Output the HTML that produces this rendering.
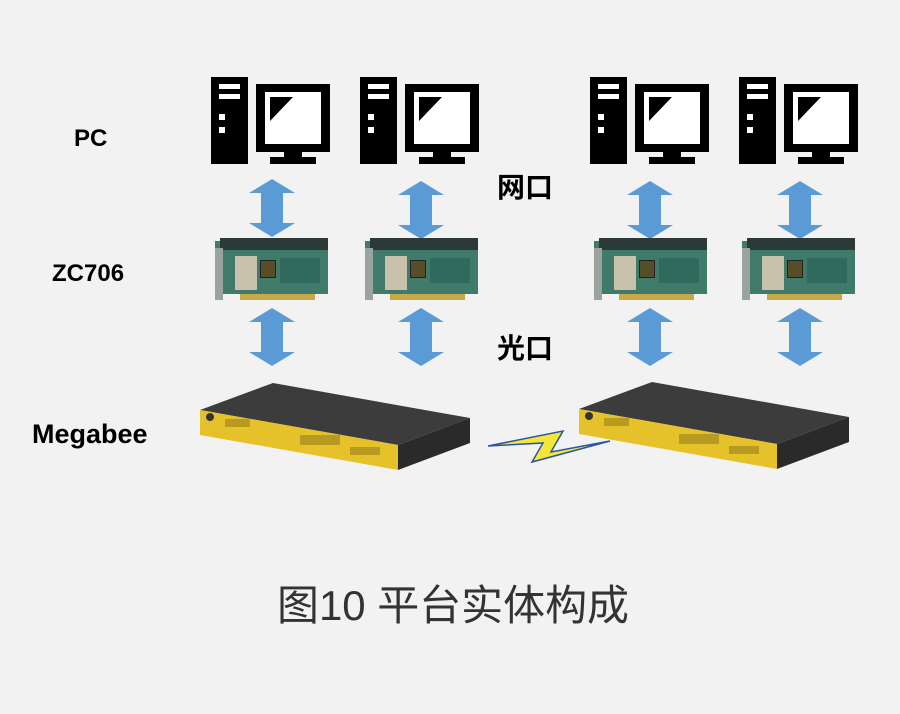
<!DOCTYPE html>
<html><head><meta charset="utf-8"><style>
html,body{margin:0;padding:0;background:#f2f2f2;}
</style></head><body>
<svg width="900" height="709" viewBox="0 0 900 709" xmlns="http://www.w3.org/2000/svg">
<rect width="900" height="709" fill="#f2f2f2"/>
<defs>
<g id="pc">
  <rect x="0" y="0" width="37" height="87" fill="#000"/>
  <rect x="8" y="7" width="21" height="5" fill="#fff"/>
  <rect x="8" y="17" width="21" height="5" fill="#fff"/>
  <rect x="8" y="37" width="6" height="6" fill="#fff"/>
  <rect x="8" y="50" width="6" height="6" fill="#fff"/>
  <rect x="45" y="7" width="74" height="68" fill="#000"/>
  <rect x="54" y="15" width="56" height="52" fill="#fff"/>
  <polygon points="59,20 82,20 59,44" fill="#000"/>
  <rect x="73" y="74" width="18" height="8" fill="#000"/>
  <rect x="59" y="80" width="46" height="7" fill="#000"/>
</g>
<g id="arr">
  <polygon points="0,0 23,14 11,14 11,44 23,44 0,58 -23,44 -11,44 -11,14 -23,14" fill="#5b9bd5"/>
</g>
<g id="board">
  <rect x="0" y="3" width="113" height="53" fill="#3f7a6a"/>
  <rect x="5" y="0" width="108" height="12" fill="#2b3a36"/>
  <rect x="0" y="10" width="8" height="52" fill="#9aa39e"/>
  <rect x="20" y="18" width="22" height="34" fill="#c8c2ac"/>
  <rect x="45" y="22" width="16" height="18" fill="#222"/>
  <rect x="46" y="23" width="14" height="16" fill="#8a7a30" opacity="0.5"/>
  <rect x="65" y="20" width="40" height="25" fill="#2f6a5c"/>
  <rect x="25" y="56" width="75" height="6" fill="#c8a94a"/>
</g>
<g id="mb">
  <polygon points="0,27 73,0 270,35 198,62" fill="#3c3c3c"/>
  <polygon points="0,27 198,62 198,87 0,52" fill="#e6c22a"/>
  <polygon points="198,62 270,35 270,60 198,87" fill="#2a2a2a"/>
  <circle cx="10" cy="34" r="4" fill="#333"/>
  <g fill="#b89a20"><rect x="25" y="36" width="25" height="8"/><rect x="100" y="52" width="40" height="10"/><rect x="150" y="64" width="30" height="8"/></g>
</g>
</defs>
<use href="#pc" x="211" y="77"/>
<use href="#pc" x="360" y="77"/>
<use href="#pc" x="590" y="77"/>
<use href="#pc" x="739" y="77"/>
<use href="#arr" x="272" y="179"/>
<use href="#arr" x="421" y="181"/>
<use href="#arr" x="650" y="181"/>
<use href="#arr" x="800" y="181"/>
<use href="#arr" x="272" y="308"/>
<use href="#arr" x="421" y="308"/>
<use href="#arr" x="650" y="308"/>
<use href="#arr" x="800" y="308"/>
<use href="#board" x="215" y="238"/>
<use href="#board" x="365" y="238"/>
<use href="#board" x="594" y="238"/>
<use href="#board" x="742" y="238"/>
<use href="#mb" x="200" y="383"/>
<use href="#mb" x="579" y="382"/>
<polygon points="488,446 563,431 551,452 610,441 532,462 543,443" fill="#f5e73a" stroke="#2a55a0" stroke-width="1.5" stroke-linejoin="miter"/>
<g font-family="Liberation Sans, Noto Sans CJK SC, sans-serif" font-weight="bold" fill="#000">
<text x="74" y="146" font-size="24">PC</text>
<text x="52" y="281" font-size="24">ZC706</text>
<text x="32" y="443" font-size="27">Megabee</text>
<text x="497" y="197" font-size="28">网口</text>
<text x="497" y="358" font-size="28">光口</text>
</g>
<text x="277" y="620" font-family="Liberation Sans, Noto Sans CJK SC, sans-serif" font-size="42" fill="#333" textLength="352" lengthAdjust="spacingAndGlyphs">图10 平台实体构成</text>
</svg>
</body></html>
